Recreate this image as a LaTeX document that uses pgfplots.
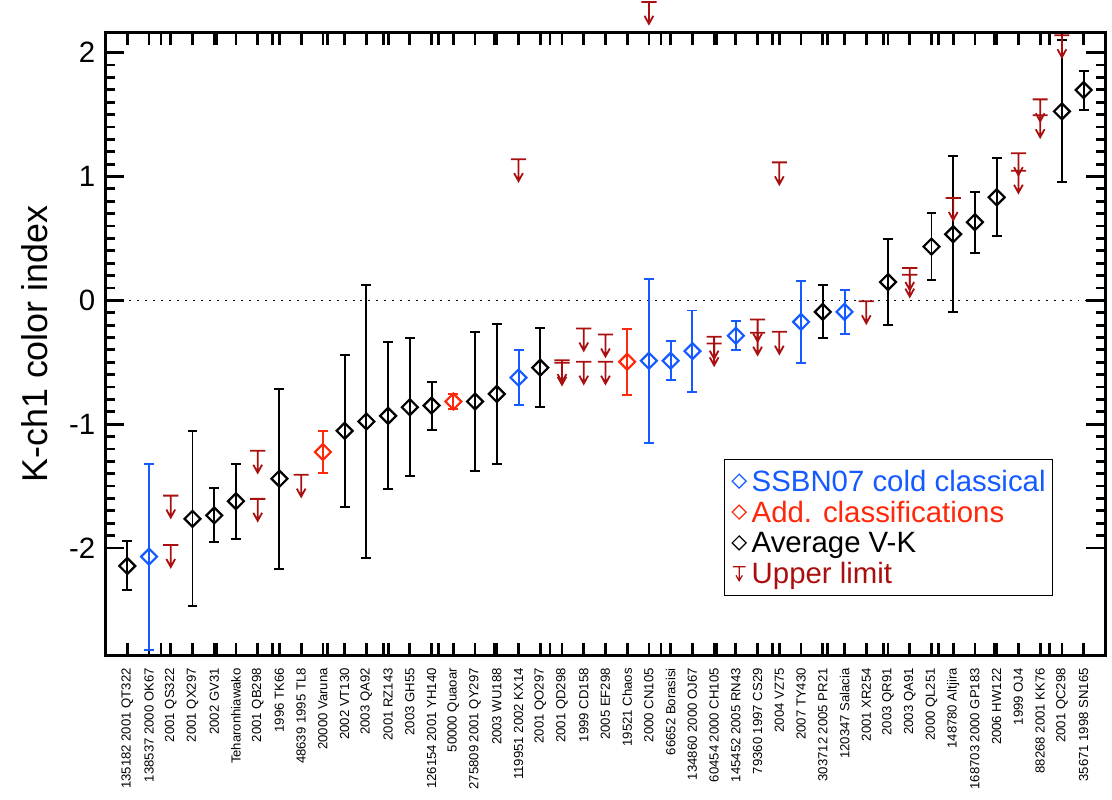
\documentclass[border=0pt]{standalone}
\usepackage{pgfplots}
\pgfplotsset{compat=1.18}
\usepackage{fontspec}
\setmainfont{Liberation Sans}
\definecolor{cblue}{RGB}{20,90,255}
\definecolor{cred}{RGB}{255,40,10}
\definecolor{cdred}{RGB}{170,15,15}
\newcommand\fs[1]{\fontsize{#1}{#1}\selectfont}
\pgfdeclareplotmark{ulim}{%
  \pgfpathmoveto{\pgfqpoint{-3.8pt}{0pt}}\pgfpathlineto{\pgfqpoint{3.8pt}{0pt}}%
  \pgfpathmoveto{\pgfqpoint{0pt}{0pt}}\pgfpathlineto{\pgfqpoint{0pt}{-11pt}}%
  \pgfpathmoveto{\pgfqpoint{-2.2pt}{-7pt}}\pgfpathlineto{\pgfqpoint{0pt}{-11pt}}\pgfpathlineto{\pgfqpoint{2.2pt}{-7pt}}%
  \pgfusepathqstroke}
\begin{document}
\begin{tikzpicture}
\begin{axis}[
  name=ax, scale only axis, width=502pt, height=312.5pt,
  xmin=0, xmax=46, ymin=-2.866, ymax=2.16,
  clip=false,
  axis line style={line width=1.4pt},
  every tick/.style={black, line width=1.4pt},
  tick align=inside,
  xtick={0,2.5556,5.1111,7.6667,10.2222,12.7778,15.3333,17.8889,20.4444,23,25.5556,28.1111,30.6667,33.2222,35.7778,38.3333,40.8889,43.4444,46},
  xticklabels={},
  xtick style={/pgfplots/major tick length=6pt},
  extra x ticks={1,...,45},
  extra x tick labels={135182 2001 QT322,138537 2000 OK67,2001 QS322,2001 QX297,2002 GV31,Teharonhiawako,2001 QB298,1996 TK66,48639 1995 TL8,20000 Varuna,2002 VT130,2003 QA92,2001 RZ143,2003 GH55,126154 2001 YH140,50000 Quaoar,275809 2001 QY297,2003 WU188,119951 2002 KX14,2001 QO297,2001 QD298,1999 CD158,2005 EF298,19521 Chaos,2000 CN105,66652 Borasisi,134860 2000 OJ67,60454 2000 CH105,145452 2005 RN43,79360 1997 CS29,2004 VZ75,2007 TY430,303712 2005 PR21,120347 Salacia,2001 XR254,2003 QR91,2003 QA91,2000 QL251,148780 Altjira,168703 2000 GP183,2006 HW122,1999 OJ4,88268 2001 KK76,2001 QC298,35671 1998 SN165},
  extra x tick style={/pgfplots/major tick length=0pt, xticklabel style={rotate=90, anchor=east, font=\fs{6.6}, inner sep=0pt}},
  xticklabel shift=6.3pt,
  ytick={-2,-1,0,1,2}, yticklabels={-2,-1,0,1,2},
  minor y tick num=9,
  major tick length=9.5pt, minor tick length=4.5pt,
  yticklabel style={font=\fs{14.75}, inner xsep=0pt},
  yticklabel shift=5pt,
  ylabel={K-ch1 color index},
  every axis y label/.style={at={(axis description cs:-0.0707,0.5)}, rotate=90, anchor=center, font=\fs{18}},
  legend style={at={(axis description cs:0.6185,0.3152)}, anchor=north west, draw=black, line width=0.7pt,
    inner xsep=3.5pt, inner ysep=3pt, font=\fs{14.75}, column sep=2.5pt,
    nodes={inner sep=0pt, text height=12.8pt, text depth=2.7pt}},
  legend cell align=left,
  error bars/error bar style={line width=1pt},
]
% zero line
\addplot[black, line width=0.8pt, dash pattern=on 1pt off 3pt, forget plot] coordinates {(0,0) (46,0)};

% Average V-K (black)
\addplot[black, only marks, mark=square, mark size=2.83pt, mark options={rotate=45, line width=1.1pt},
  error bars/.cd, y dir=both, y explicit, error mark options={rotate=90, mark size=2.5pt, line width=1pt}, /pgfplots/forget plot]
coordinates {
(1,-2.145) +- (0,0.198)
(4,-1.764) +- (0,0.708)
(5,-1.737) +- (0,0.218)
(6,-1.622) +- (0,0.303)
(8,-1.440) +- (0,0.728)
(11,-1.054) +- (0,0.612)
(12,-0.978) +- (0,1.101)
(13,-0.933) +- (0,0.594)
(14,-0.863) +- (0,0.558)
(15,-0.850) +- (0,0.194)
(17,-0.817) +- (0,0.563)
(18,-0.756) +- (0,0.566)
(20,-0.544) +- (0,0.317)
(33,-0.093) +- (0,0.214)
(36,0.148) +- (0,0.348)
(38,0.434) +- (0,0.270)
(39,0.534) +- (0,0.630)
(40,0.631) +- (0,0.246)
(41,0.832) +- (0,0.314)
(44,1.526) +- (0,0.574)
(45,1.698) +- (0,0.157)
};

% SSBN07 cold classical (blue)
\addplot[cblue, only marks, mark=square, mark size=2.83pt, mark options={rotate=45, line width=1.1pt},
  error bars/.cd, y dir=both, y explicit, error mark options={rotate=90, mark size=2.5pt, line width=1pt}, /pgfplots/forget plot]
coordinates {
(2,-2.070) +- (0,0.750)
(19,-0.624) +- (0,0.221)
(25,-0.488) +- (0,0.660)
(26,-0.488) +- (0,0.157)
(27,-0.410) +- (0,0.328)
(29,-0.286) +- (0,0.118)
(32,-0.174) +- (0,0.332)
(34,-0.093) +- (0,0.177)
};

% Add. classifications (red)
\addplot[cred, only marks, mark=square, mark size=2.83pt, mark options={rotate=45, line width=1.1pt},
  error bars/.cd, y dir=both, y explicit, error mark options={rotate=90, mark size=2.5pt, line width=1pt}, /pgfplots/forget plot]
coordinates {
(10,-1.225) +- (0,0.172)
(16,-0.817) +- (0,0.059)
(24,-0.496) +- (0,0.268)
};

% Upper limits
\addplot[cdred, only marks, mark=ulim, mark options={line width=0.9pt, solid}, forget plot]
coordinates {
(3,-1.577) (3,-1.976)
(7,-1.215) (7,-1.603)
(9,-1.408)
(19,1.140)
(21,-0.483) (21,-0.504)
(22,-0.228) (22,-0.496)
(23,-0.276) (23,-0.496)
(25,2.41)
(28,-0.294) (28,-0.348)
(30,-0.155) (30,-0.262)
(31,1.114) (31,-0.254)
(35,-0.008)
(37,0.261) (37,0.207)
(39,0.826)
(42,1.188) (42,1.046)
(43,1.623) (43,1.494)
(44,2.140)
};

\addlegendimage{legend image code/.code={\draw[cblue, line width=0.6pt] (0pt,-3.5pt)--(3.5pt,0pt)--(0pt,3.5pt)--(-3.5pt,0pt)--cycle;}}
\addlegendentry[text=cblue]{SSBN07 cold classical}
\addlegendimage{legend image code/.code={\draw[cred, line width=0.6pt] (0pt,-3.5pt)--(3.5pt,0pt)--(0pt,3.5pt)--(-3.5pt,0pt)--cycle;}}
\addlegendentry[text=cred]{Add. classifications}
\addlegendimage{legend image code/.code={\draw[black, line width=0.6pt] (0pt,-3.5pt)--(3.5pt,0pt)--(0pt,3.5pt)--(-3.5pt,0pt)--cycle;}}
\addlegendentry[text=black]{Average V-K}
\addlegendimage{legend image code/.code={\draw[cdred, line width=0.6pt] (-3.2pt,3.5pt)--(3.2pt,3.5pt) (0pt,3.5pt)--(0pt,-3.5pt) (-1.6pt,-0.8pt)--(0pt,-3.5pt)--(1.6pt,-0.8pt);}}
\addlegendentry[text=cdred]{Upper limit}
\end{axis}
\path ([xshift=-53pt,yshift=-72.5pt]ax.south west) rectangle ([xshift=1pt,yshift=16.5pt]ax.north east);
\end{tikzpicture}
\end{document}
